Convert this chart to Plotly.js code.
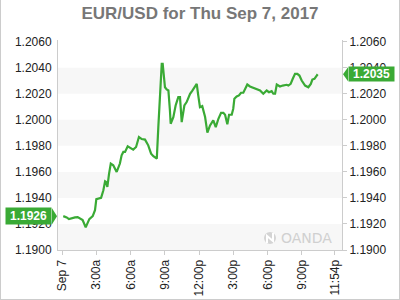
<!DOCTYPE html>
<html>
<head>
<meta charset="utf-8">
<script src="https://cdn.plot.ly/plotly-3.0.1.min.js"></script>
<style>
html,body{margin:0;padding:0;background:#fff;}
#wrap{position:relative;width:400px;height:300px;}
#chart{width:400px;height:300px;}
#frame{position:absolute;left:0;top:0;width:400px;height:300px;box-sizing:border-box;border-left:1px solid #ccc;border-right:1px solid #ccc;border-bottom:1px solid #ccc;pointer-events:none;}
</style>
</head>
<body>
<div id="wrap"><div id="chart"></div><div id="frame"></div></div>
<script>
// Time of day (Sep 7, 2017) and EUR/USD price
const times = ["00:05","00:23","00:35","00:49","01:07","01:21","01:33","01:47","02:03","02:12","02:22","02:40","02:52","02:59","03:09","03:24","03:36","03:45","03:50","03:57","04:06","04:15","04:28","04:46","05:03","05:12","05:21","05:30","05:44","05:56","06:13","06:28","06:43","06:58","07:15","07:32","07:47","07:59","08:17","08:25","08:34","08:43","08:48","09:00","09:09","09:18","09:26","09:30","09:44","09:56","10:10","10:19","10:28","10:42","10:54","11:12","11:24","11:38","11:47","11:55","12:04","12:16","12:31","12:43","12:57","13:14","13:27","13:41","13:55","14:07","14:16","14:28","14:37","14:51","14:59","15:05","15:17","15:29","15:40","15:52","16:05","16:13","16:27","16:45","17:03","17:20","17:37","17:46","17:55","18:07","18:21","18:30","18:39","18:48","18:56","19:05","19:19","19:40","19:49","20:01","20:12","20:24","20:36","20:47","20:59","21:17","21:34","21:47","21:55","22:06","22:18","22:23"];
const prices = [1.1926,1.1925,1.19237,1.19245,1.1925,1.19253,1.19245,1.1923,1.19174,1.19209,1.19237,1.1926,1.19306,1.1939,1.19396,1.194,1.19459,1.19528,1.19523,1.19485,1.19587,1.19664,1.19651,1.1960,1.19664,1.19727,1.19753,1.19753,1.19796,1.19786,1.19771,1.19791,1.19868,1.19852,1.19848,1.19804,1.1974,1.1972,1.19702,1.19944,1.20225,1.2043,1.2043,1.2025,1.20233,1.20225,1.20072,1.1997,1.2002,1.2011,1.20174,1.20174,1.19982,1.2011,1.20136,1.202,1.20225,1.20263,1.20276,1.20187,1.20097,1.20105,1.20021,1.19901,1.19957,1.19995,1.19944,1.20008,1.20054,1.20054,1.20039,1.19965,1.20039,1.20039,1.20085,1.20162,1.20179,1.20187,1.20208,1.20208,1.20256,1.20271,1.20256,1.20246,1.20238,1.20225,1.202,1.20212,1.20225,1.20212,1.2022,1.202,1.202,1.20271,1.20263,1.20256,1.20263,1.20269,1.20263,1.20276,1.20315,1.20353,1.20353,1.2034,1.20302,1.20263,1.2025,1.20276,1.20309,1.20315,1.2034,1.2035];
const xTickTimes = ["2017-09-07 00:00","2017-09-07 03:00","2017-09-07 06:00","2017-09-07 09:00","2017-09-07 12:00","2017-09-07 15:00","2017-09-07 18:00","2017-09-07 21:00","2017-09-07 23:54"];
const xTickText = ["Sep 7","3:00a","6:00a","9:00a","12:00p","3:00p","6:00p","9:00p","11:54p"];
const yTicks = [1.1900,1.1920,1.1940,1.1960,1.1980,1.2000,1.2020,1.2040,1.2060];
const openLabel = "1.1926", openValue = 1.1926;
const lastLabel = "1.2035", lastValue = 1.2035;

const green = "#3aaa35";
const xs = times.map(t => "2017-09-07 " + t);
const yRange = [1.19, 1.20613];
const tickFont = {family: "Arial, 'Liberation Sans', sans-serif", size: 12, color: "#222"};

const bands = [];
for (let i = 0; i + 1 < yTicks.length; i += 2) {
  bands.push({type: "rect", xref: "paper", yref: "y", x0: 0, x1: 1, y0: yTicks[i], y1: yTicks[i+1],
    fillcolor: "#f7f7f7", line: {width: 0}, layer: "below"});
}

const shapes = bands.concat([
  {type: "path", xref: "paper", yref: "y", xsizemode: "pixel", ysizemode: "pixel",
   xanchor: 0, yanchor: openValue, path: "M -6,8 L -1,0 L -6,-8 Z",
   fillcolor: green, line: {width: 0}},
  {type: "path", xref: "paper", yref: "y", xsizemode: "pixel", ysizemode: "pixel",
   xanchor: 1, yanchor: lastValue, path: "M 6,7 L 1,0 L 6,-7 Z",
   fillcolor: green, line: {width: 0}},
  {type: "circle", xref: "paper", yref: "paper", xsizemode: "pixel", ysizemode: "pixel",
   xanchor: (270-58)/284, yanchor: (250-238)/210, x0: -6, x1: 6, y0: -6, y1: 6,
   fillcolor: "#d4d4d4", line: {width: 0}},
  {type: "path", xref: "paper", yref: "paper", xsizemode: "pixel", ysizemode: "pixel",
   xanchor: (270-58)/284, yanchor: (250-238)/210, path: "M -3,-5 L -3,2 L 3,-3 L 3,5",
   line: {color: "#fff", width: 2}}
]);

const data = [
  {x: xs, y: prices, type: "scatter", mode: "lines", line: {color: green, width: 2.2}, hoverinfo: "skip", showlegend: false},
  {x: xs, y: prices, type: "scatter", mode: "lines", yaxis: "y2", line: {color: "rgba(0,0,0,0)", width: 0}, hoverinfo: "skip", showlegend: false}
];

const layout = {
  width: 400, height: 300,
  margin: {l: 58, r: 58, t: 40, b: 50, pad: 0},
  paper_bgcolor: "#fff", plot_bgcolor: "#fff",
  showlegend: false,
  title: {text: "EUR/USD for Thu Sep 7, 2017", x: 0.5, xanchor: "center", xref: "paper",
    y: 1 - 13/300, yref: "container", yanchor: "middle",
    font: {family: "Arial, 'Liberation Sans', sans-serif", size: 17, color: "#777", weight: "bold"}},
  xaxis: {type: "date", range: ["2017-09-06 23:37:24", "2017-09-08 00:31:00"],
    tickvals: xTickTimes, ticktext: xTickText, tickangle: -90,
    showgrid: false, zeroline: false, showline: true, linecolor: "#ccc", linewidth: 1,
    ticks: "outside", ticklen: 4, tickcolor: "#ccc", tickfont: tickFont, fixedrange: true},
  yaxis: {range: yRange, tickvals: yTicks, tickformat: ".4f", side: "left",
    showgrid: false, zeroline: false, showline: true, linecolor: "#ccc", linewidth: 1,
    ticks: "outside", ticklen: 3, tickcolor: "rgba(0,0,0,0)", tickfont: tickFont, fixedrange: true},
  yaxis2: {range: yRange, tickvals: yTicks, tickformat: ".4f", side: "right", overlaying: "y",
    showgrid: false, zeroline: false, showline: true, linecolor: "#ccc", linewidth: 1,
    ticks: "outside", ticklen: 4, tickcolor: "#ccc", tickfont: tickFont, fixedrange: true},
  shapes: shapes,
  annotations: [
    {xref: "paper", yref: "y", x: -6/284, y: openValue, xanchor: "right", yanchor: "middle",
     text: openLabel, showarrow: false, bgcolor: green, width: 45, height: 16, borderpad: 0,
     font: {family: "Arial, 'Liberation Sans', sans-serif", size: 12, color: "#fff", weight: "bold"}},
    {xref: "paper", yref: "y", x: 1 + 6/284, y: lastValue, xanchor: "left", yanchor: "middle",
     text: lastLabel, showarrow: false, bgcolor: green, width: 45, height: 14, borderpad: 0,
     font: {family: "Arial, 'Liberation Sans', sans-serif", size: 12, color: "#fff", weight: "bold"}},
    {xref: "paper", yref: "paper", x: (279-58)/284, y: (250-238)/210, xanchor: "left", yanchor: "middle",
     text: "OANDA", showarrow: false,
     font: {family: "'DejaVu Sans', Arial, sans-serif", size: 14, color: "#d0d0d0"}}
  ]
};

Plotly.newPlot("chart", data, layout, {staticPlot: true, displayModeBar: false});
</script>
</body>
</html>
